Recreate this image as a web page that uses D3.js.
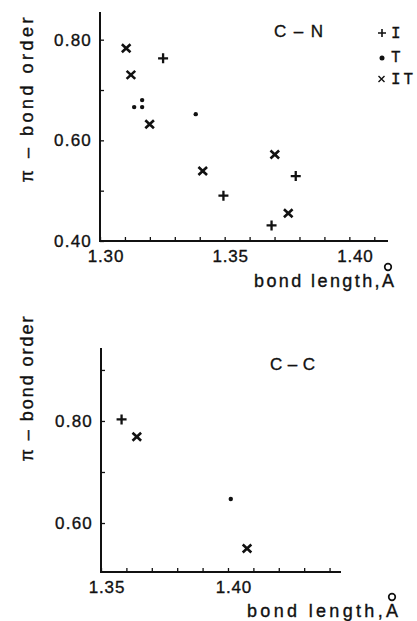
<!DOCTYPE html>
<html>
<head>
<meta charset="utf-8">
<script src="https://cdn.jsdelivr.net/npm/d3@7"></script>
<style>
  body { margin: 0; background: #fff; }
  svg text { font-family: "Liberation Sans", Arial, sans-serif; fill: #111; stroke: #111; stroke-width: 0.35px; }
</style>
</head>
<body>
<svg id="chart" width="417" height="621"></svg>
<script>
// C-N panel data (bond length in Å, pi-bond order)
var cnI  = [[1.3253, 0.763], [1.3495, 0.490], [1.3688, 0.431], [1.3785, 0.529]];
var cnT  = [[1.3137, 0.666], [1.3169, 0.680], [1.3169, 0.666], [1.3384, 0.652]];
var cnIT = [[1.3105, 0.783], [1.3124, 0.730], [1.3199, 0.632], [1.3412, 0.539], [1.3701, 0.572], [1.3755, 0.455]];
var cnXTicks = [1.30, 1.35, 1.40];
var cnYTicks = [0.40, 0.60, 0.80];

// C-C panel data
var ccI  = [[1.3581, 0.803]];
var ccT  = [[1.4011, 0.647]];
var ccIT = [[1.3641, 0.769], [1.4075, 0.550]];
var ccXTicks = [1.35, 1.40];
var ccYTicks = [0.60, 0.80];

var legendLabels = ["I", "T", "IT"];

var svg = d3.select("#chart");

function marker(g, kind, x, y) {
  if (kind == "I") {
    g.append("path").attr("d", "M" + (x - 5) + "," + y + "H" + (x + 5) + "M" + x + "," + (y - 5) + "V" + (y + 5))
      .attr("stroke", "#111").attr("stroke-width", 2.3).attr("fill", "none");
  } else if (kind == "T") {
    g.append("circle").attr("cx", x).attr("cy", y).attr("r", 2.2).attr("fill", "#111");
  } else {
    g.append("path").attr("d", "M" + (x - 4.3) + "," + (y - 4) + "L" + (x + 4.3) + "," + (y + 4) + "M" + (x - 4.3) + "," + (y + 4) + "L" + (x + 4.3) + "," + (y - 4))
      .attr("stroke", "#111").attr("stroke-width", 2.6).attr("fill", "none");
  }
}

function panel(p) {
  var g = svg.append("g");
  var x = d3.scaleLinear().domain(p.xDomain).range([p.left, p.right]);
  var y = d3.scaleLinear().domain(p.yDomain).range([p.bottom, p.top]);

  // axes: ticks point inwards, labels drawn separately
  var xAxis = g.append("g").attr("transform", "translate(0," + p.bottom + ")")
    .call(d3.axisTop(x).tickValues(d3.range(p.xDomain[0], p.xDomain[1], 0.01)).tickSize(4).tickFormat(""));
  var yAxis = g.append("g").attr("transform", "translate(" + p.left + ",0)")
    .call(d3.axisRight(y).tickValues(d3.range(p.yDomain[0] + (p.yStart || 0), p.yDomain[1], 0.1)).tickSize(4).tickFormat(""));
  [xAxis, yAxis].forEach(function(a) {
    a.select(".domain").attr("stroke", "#111").attr("stroke-width", 2).attr("d",
      a === xAxis ? "M" + (p.left - 1) + ",0H" + p.right : "M0," + p.top + "V" + (p.bottom + 1));
    a.selectAll(".tick line").attr("stroke", "#111").attr("stroke-width", 1.3);
  });

  g.selectAll(".xl").data(p.xTicks).enter().append("text")
    .attr("x", function(d) { return x(d) + 6; }).attr("y", p.bottom + 21)
    .attr("text-anchor", "middle").attr("font-size", 17).attr("letter-spacing", 0.8)
    .text(function(d) { return d.toFixed(2); });
  g.selectAll(".yl").data(p.yTicks).enter().append("text")
    .attr("x", p.left - 8).attr("y", function(d) { return y(d) + 6; })
    .attr("text-anchor", "end").attr("font-size", 17).attr("letter-spacing", 1.2)
    .text(function(d) { return d.toFixed(2); });

  // axis titles
  g.append("text").attr("transform", "translate(33," + p.yTitleY + ") rotate(-90)")
    .attr("text-anchor", "middle").attr("font-size", 18).attr("textLength", p.yTitleLen)
    .attr("lengthAdjust", "spacing").text("π – bond order");
  g.append("text").attr("x", p.xTitleX).attr("y", p.xTitleBase)
    .attr("font-size", 18).attr("textLength", p.xTitleLen)
    .attr("lengthAdjust", "spacing").text("bond length,A");
  // ring above the A
  g.append("circle").attr("cx", p.xTitleX + p.xTitleLen - 6).attr("cy", p.xTitleBase - 20).attr("r", 3.3)
    .attr("fill", "none").attr("stroke", "#111").attr("stroke-width", 1.7);

  g.append("text").attr("x", p.nameX).attr("y", p.nameY).attr("font-size", 17)
    .attr("textLength", p.nameLen).attr("lengthAdjust", "spacing").text(p.name);

  var sets = [["I", p.I], ["T", p.T], ["IT", p.IT]];
  sets.forEach(function(s) {
    s[1].forEach(function(d) { marker(g, s[0], x(d[0]), y(d[1])); });
  });
  return g;
}

panel({
  xDomain: [1.30, 1.4155], yDomain: [0.40, 0.855],
  left: 100, right: 388, top: 12, bottom: 241,
  xTicks: cnXTicks, yTicks: cnYTicks,
  I: cnI, T: cnT, IT: cnIT,
  yTitleY: 100, yTitleLen: 165,
  xTitleX: 254, xTitleBase: 287, xTitleLen: 140,
  name: "C – N", nameX: 274, nameY: 37, nameLen: 49
});

panel({
  xDomain: [1.35, 1.4445], yDomain: [0.504, 0.943],
  left: 101, right: 341, top: 348, bottom: 572,
  xTicks: ccXTicks, yTicks: ccYTicks, yStart: 0.096,
  I: ccI, T: ccT, IT: ccIT,
  yTitleY: 389, yTitleLen: 145,
  xTitleX: 247, xTitleBase: 617, xTitleLen: 151,
  name: "C–C", nameX: 270, nameY: 370, nameLen: 45
});

// legend (top panel)
var leg = svg.append("g");
legendLabels.forEach(function(l, i) {
  var yy = [33, 57, 79][i];
  if (l == "IT") {
    leg.append("path").attr("d", "M378.5," + (yy - 3) + "L384.5," + (yy + 3) + "M378.5," + (yy + 3) + "L384.5," + (yy - 3))
      .attr("stroke", "#111").attr("stroke-width", 1.4);
  } else if (l == "T") {
    leg.append("circle").attr("cx", 382).attr("cy", yy + 1).attr("r", 2.5).attr("fill", "#111");
  } else {
    leg.append("path").attr("d", "M378," + yy + "H386M382," + (yy - 4) + "V" + (yy + 4))
      .attr("stroke", "#111").attr("stroke-width", 1.6);
  }
  leg.append("text").attr("x", 391).attr("y", yy + 5).style("font-size", "16px")
    .style("font-family", "'Liberation Mono', monospace").style("letter-spacing", "3px").text(l);
});
</script>
</body>
</html>
